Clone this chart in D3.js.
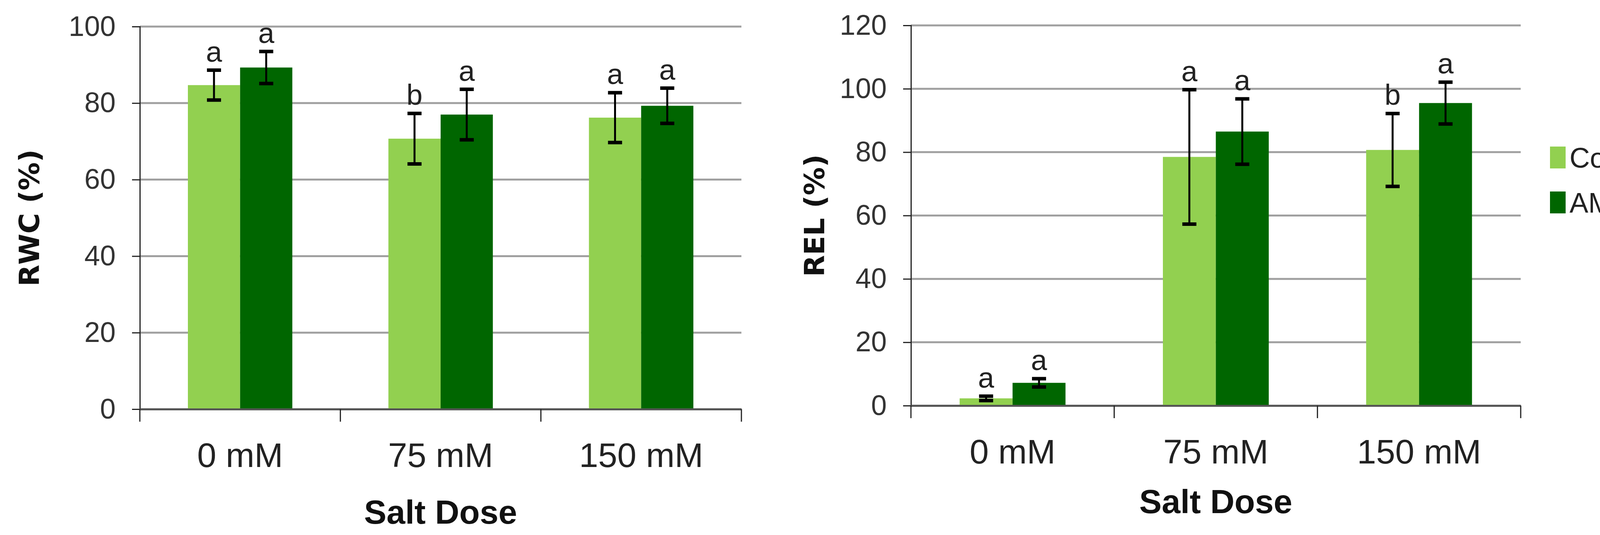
<!DOCTYPE html>
<html><head><meta charset="utf-8">
<script src="https://cdn.jsdelivr.net/npm/d3@7"></script>
<style>body{margin:0;background:#fff}</style>
</head><body>
<script>
const categories = ["0 mM", "75 mM", "150 mM"];
const series = ["Control", "AM"];
const rwcMean = [[84.7, 70.7, 76.2], [89.3, 77.0, 79.3]];
const rwcErr = [[3.9, 6.6, 6.5], [4.2, 6.6, 4.6]];
const rwcLetters = [["a", "b", "a"], ["a", "a", "a"]];
const relMean = [[2.3, 78.5, 80.7], [7.2, 86.5, 95.5]];
const relErr = [[0.7, 21.2, 11.5], [1.3, 10.3, 6.6]];
const relLetters = [["a", "a", "b"], ["a", "a", "a"]];
const colors = ["#92d050", "#006600"];

const W = 4259, H = 1369;
const narrow = "'Liberation Sans Narrow', 'Liberation Sans', sans-serif";
const svg = d3.select("body").append("svg").attr("width", W).attr("height", H)
  .style("font-family", narrow);

function panel(o) {
  const x = d3.scaleBand().domain(categories).range([o.x0, o.x1]);
  const y = d3.scaleLinear().domain([0, o.max]).range([o.y0, o.y1]);
  const g = svg.append("g");
  const ticks = d3.range(0, o.max + 1, 20);
  g.selectAll(".grid").data(ticks).join("line")
    .attr("x1", o.x0).attr("x2", o.x1).attr("y1", d => y(d)).attr("y2", d => y(d))
    .attr("stroke", "#a0a0a0").attr("stroke-width", 5);
  g.append("g").attr("transform", `translate(${o.x0},0)`)
    .call(d3.axisLeft(y).tickValues(ticks).tickSize(20).tickPadding(42))
    .call(a => a.selectAll("line,path").attr("stroke", "#222").attr("stroke-width", 3))
    .call(a => a.selectAll("text").attr("font-size", 72).attr("fill", "#333").attr("font-family", narrow));
  const inner = d3.scaleBand().domain(series).range([0, x.bandwidth()]).paddingOuter(0.92).paddingInner(0);
  series.forEach((s, si) => {
    const means = o.mean[si], errs = o.err[si];
    categories.forEach((c, ci) => {
      const bx = x(c) + inner(s), bw = inner.bandwidth(), cx = bx + bw / 2;
      g.append("rect").attr("x", bx).attr("width", bw)
        .attr("y", y(means[ci])).attr("height", y(0) - y(means[ci])).attr("fill", colors[si]);
      const hi = y(means[ci] + errs[ci]), lo = y(means[ci] - errs[ci]);
      g.append("line").attr("x1", cx).attr("x2", cx).attr("y1", hi).attr("y2", lo).attr("stroke", "#000").attr("stroke-width", 5);
      [hi, lo].forEach(v => g.append("line").attr("x1", cx - 18).attr("x2", cx + 18).attr("y1", v).attr("y2", v).attr("stroke", "#000").attr("stroke-width", 9));
      g.append("text").attr("x", cx).attr("y", hi - 22).attr("text-anchor", "middle")
        .attr("font-size", 74).attr("fill", "#222").text(o.letters[si][ci]);
    });
  });
  g.append("g").attr("transform", `translate(0,${y(0)})`)
    .call(d3.axisBottom(x).tickSize(0).tickPadding(86))
    .call(a => a.select(".domain").attr("stroke", "#555").attr("stroke-width", 5))
    .call(a => a.selectAll("text").attr("font-size", 88).attr("fill", "#222").attr("font-family", narrow));
  g.selectAll(".sep").data(d3.range(categories.length + 1)).join("line")
    .attr("x1", i => o.x0 + i * x.step()).attr("x2", i => o.x0 + i * x.step())
    .attr("y1", y(0)).attr("y2", y(0) + 32).attr("stroke", "#222").attr("stroke-width", 3);
  g.append("text").attr("x", (o.x0 + o.x1) / 2).attr("y", o.titleY).attr("text-anchor", "middle")
    .attr("font-size", 86).attr("font-weight", "bold").attr("fill", "#111").text("Salt Dose");
  g.append("text").attr("transform", `translate(${o.ytX},${(o.y0 + o.y1) / 2}) rotate(-90)`)
    .attr("text-anchor", "middle").attr("font-size", 72).attr("font-weight", "bold")
    .attr("font-family", "'DejaVu Sans', sans-serif").attr("fill", "#111").text(o.ytitle);
}

panel({x0: 358, x1: 1898, y0: 1047, y1: 68, max: 100, mean: rwcMean, err: rwcErr, letters: rwcLetters, titleY: 1340, ytX: 100, ytitle: "RWC (%)"});
panel({x0: 2332, x1: 3893, y0: 1038, y1: 65, max: 120, mean: relMean, err: relErr, letters: relLetters, titleY: 1313, ytX: 2110, ytitle: "REL (%)"});

const leg = svg.append("g").attr("transform", "translate(3968,0)");
series.forEach((s, i) => {
  const yy = 403 + i * 115;
  leg.append("rect").attr("x", 0).attr("y", yy - 28).attr("width", 40).attr("height", 56).attr("fill", colors[i]);
  leg.append("text").attr("x", 50).attr("y", yy + 26).attr("font-size", 72).attr("fill", "#222").text(s);
});
</script>
</body></html>
